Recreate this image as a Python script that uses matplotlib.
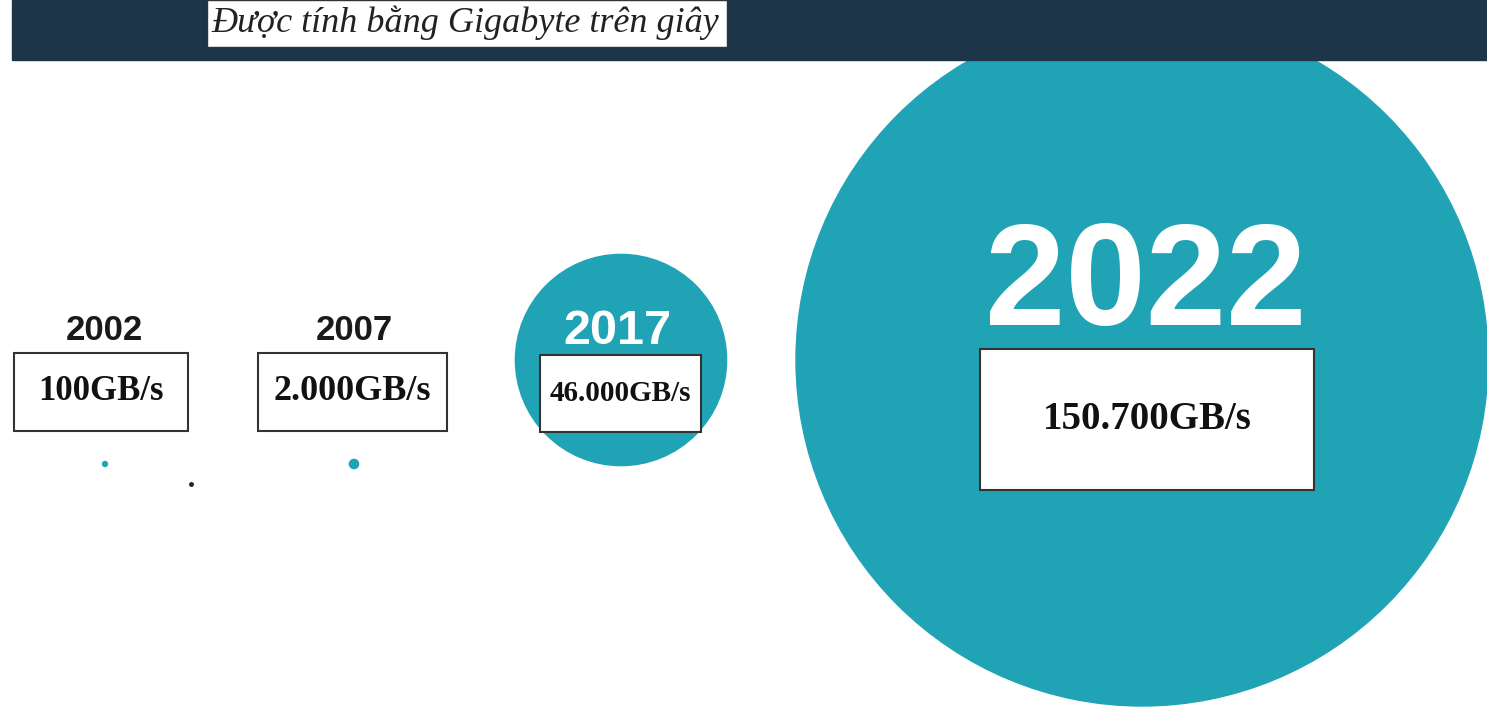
import matplotlib.pyplot as plt
from matplotlib.patches import Circle, Rectangle

# dati
years = ['2002', '2007', '2017', '2022']
speeds = [100, 2000, 46000, 150700]  # GB/s
speed_labels = ['100GB/s', '2.000GB/s', '46.000GB/s', '150.700GB/s']
subtitle = 'Được tính bằng Gigabyte trên giây'

# layout in pixel (1487 x 708)
W, H = 1487, 708
bubble_xy = [(105, 464), (354, 464), (621, 360), (1142, 360)]
year_xy = [(104, 331), (354, 331), (617, 331), (1146, 287)]
year_size = [25, 25, 35, 104]
year_color = ['#1a1a1a', '#1a1a1a', 'white', 'white']
box_rect = [(14, 353, 174, 78), (258, 353, 189, 78), (540, 355, 161, 77), (980, 349, 334, 141)]
label_size = [25, 26, 21, 28]
px_per_gb = 346 / 150700
min_r = 2.5

teal = '#21a3b6'
navy = '#1c3549'

fig = plt.figure(figsize=(W / 100, H / 100), dpi=100)
ax = fig.add_axes([0, 0, 1, 1])
ax.set_xlim(0, W)
ax.set_ylim(H, 0)
ax.set_aspect('equal')
ax.axis('off')

# bolle
for (x, y), v in zip(bubble_xy, speeds):
    r = max(v * px_per_gb, min_r)
    ax.add_patch(Circle((x, y), r, color=teal, zorder=1))

# puntino nero
ax.plot([191], [484], 'o', color='#222222', ms=2.5, zorder=2)

# intestazione
ax.add_patch(Rectangle((12, 0), W - 12, 60, color=navy, zorder=3))
ax.add_patch(Rectangle((207, 0), 520, 47, facecolor='white', edgecolor='#333333', lw=1, zorder=4))
ax.text(465, 23, subtitle, fontsize=26, family='Liberation Serif', style='italic',
        color='#222222', ha='center', va='center', zorder=5)

# anni ed etichette
for i, yr in enumerate(years):
    x, y = year_xy[i]
    ax.text(x, y, yr, fontsize=year_size[i], fontweight='bold',
            family='Liberation Sans',
            color=year_color[i], ha='center', va='center', zorder=5)
    bx, by, bw, bh = box_rect[i]
    ax.add_patch(Rectangle((bx, by), bw, bh, facecolor='white', edgecolor='#333333', lw=1.5, zorder=4))
    ax.text(bx + bw / 2, by + bh / 2, speed_labels[i], fontsize=label_size[i], fontweight='bold',
            family='Liberation Serif', color='#111111', ha='center', va='center', zorder=5)

fig.savefig('out.png', dpi=100, facecolor='white')
